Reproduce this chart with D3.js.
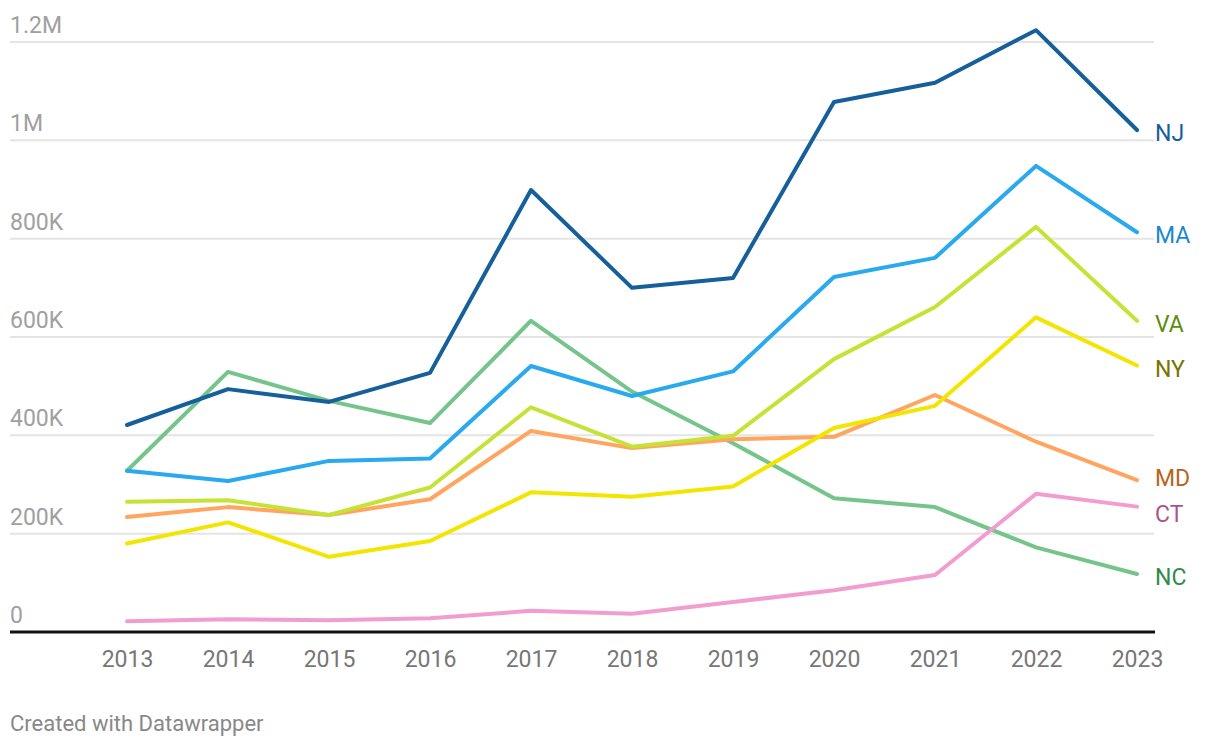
<!DOCTYPE html>
<html>
<head>
<meta charset="utf-8">
<script src="https://cdn.jsdelivr.net/npm/d3@7"></script>
<style>
  body { margin: 0; background: #fff; }
  text { font-family: Roboto, "Noto Sans", sans-serif; }
</style>
</head>
<body>
<div id="chart"></div>
<script>
var width = 1220,
    height = 750;

var years = [2013, 2014, 2015, 2016, 2017, 2018, 2019, 2020, 2021, 2022, 2023];

var NJ = [421000, 494000, 468000, 527000, 899000, 700000, 720000, 1078000, 1117000, 1224000, 1021000];
var MA = [328000, 307000, 348000, 353000, 541000, 480000, 530000, 722000, 761000, 948000, 813000];
var VA = [265000, 268000, 238000, 294000, 457000, 377000, 399000, 555000, 661000, 824000, 633000];
var NY = [180000, 223000, 153000, 185000, 284000, 275000, 296000, 415000, 460000, 640000, 542000];
var MD = [234000, 254000, 238000, 270000, 409000, 374000, 392000, 397000, 482000, 387000, 309000];
var CT = [22000, 26000, 24000, 28000, 43000, 37000, 61000, 85000, 116000, 281000, 255000];
var NC = [328000, 529000, 470000, 425000, 633000, 489000, 384000, 272000, 254000, 172000, 118000];

var yTicks = [0, 200000, 400000, 600000, 800000, 1000000, 1200000];
var yTickLabels = ["0", "200K", "400K", "600K", "800K", "1M", "1.2M"];

var series = [
  {name: "NC", values: NC, color: "#75c58b", label: "#2f8a4c"},
  {name: "CT", values: CT, color: "#f29dcf", label: "#a8558e"},
  {name: "MD", values: MD, color: "#ffa55f", label: "#b8641c"},
  {name: "NY", values: NY, color: "#f2e600", label: "#7a7400"},
  {name: "VA", values: VA, color: "#c6e235", label: "#5e8a0e"},
  {name: "MA", values: MA, color: "#29a9ee", label: "#1888d0"},
  {name: "NJ", values: NJ, color: "#155f9a", label: "#155f9a"}
];

var svg = d3.select("#chart")
    .append("svg")
    .attr("width", width)
    .attr("height", height);

var x = d3.scaleLinear()
    .domain([2013, 2023])
    .range([127, 1137]);

var y = d3.scaleLinear()
    .domain([0, 1200000])
    .range([632, 42]);

// grid lines
svg.append("g")
    .selectAll("line")
    .data(yTicks.slice(1))
    .enter().append("line")
    .attr("x1", 10)
    .attr("x2", 1154)
    .attr("y1", function(d) { return y(d); })
    .attr("y2", function(d) { return y(d); })
    .style("stroke", "#e4e4e4")
    .style("stroke-width", "2px");

// y labels, sitting above their grid line
svg.append("g")
    .selectAll("text")
    .data(yTicks)
    .enter().append("text")
    .attr("x", 10)
    .attr("y", function(d) { return y(d) - 9; })
    .style("font-size", "23px")
    .style("fill", "#a0a0a0")
    .text(function(d, i) { return yTickLabels[i]; });

// baseline
svg.append("line")
    .attr("x1", 10)
    .attr("x2", 1155)
    .attr("y1", y(0))
    .attr("y2", y(0))
    .style("stroke", "#111")
    .style("stroke-width", "3px");

// x axis labels
var xAxis = d3.axisBottom(x)
    .tickValues(years)
    .tickFormat(d3.format("d"))
    .tickSize(0)
    .tickPadding(19);

var gx = svg.append("g")
    .attr("transform", "translate(0," + y(0) + ")")
    .call(xAxis);
gx.select(".domain").remove();
gx.selectAll("text")
    .style("font-family", "Roboto, sans-serif")
    .style("font-size", "23px")
    .style("fill", "#777");

var line = d3.line()
    .x(function(d, i) { return x(years[i]); })
    .y(function(d) { return y(d); });

svg.append("g")
    .selectAll("path")
    .data(series)
    .enter().append("path")
    .attr("d", function(d) { return line(d.values); })
    .style("fill", "none")
    .style("stroke", function(d) { return d.color; })
    .style("stroke-width", "4px")
    .style("stroke-linejoin", "round")
    .style("stroke-linecap", "round");

// end labels, nudged apart where they collide
var labels = series.map(function(d) {
  return {name: d.name, color: d.label, y: y(d.values[d.values.length - 1]) + 3};
});
labels.sort(function(a, b) { return a.y - b.y; });
var minGap = 36;
for (var k = 0; k < 5; k++) {
  for (var i = 1; i < labels.length; i++) {
    var gap = labels[i].y - labels[i - 1].y;
    if (gap < minGap) {
      var shift = (minGap - gap) / 2;
      labels[i].y += shift;
      labels[i - 1].y -= shift;
    }
  }
}

svg.append("g")
    .selectAll("text")
    .data(labels)
    .enter().append("text")
    .attr("x", 1155)
    .attr("y", function(d) { return d.y; })
    .attr("dy", "0.35em")
    .style("font-size", "23px")
    .style("fill", function(d) { return d.color; })
    .text(function(d) { return d.name; });

svg.append("text")
    .attr("x", 10)
    .attr("y", 731)
    .style("font-size", "22px")
    .style("fill", "#888")
    .text("Created with Datawrapper");
</script>
</body>
</html>
